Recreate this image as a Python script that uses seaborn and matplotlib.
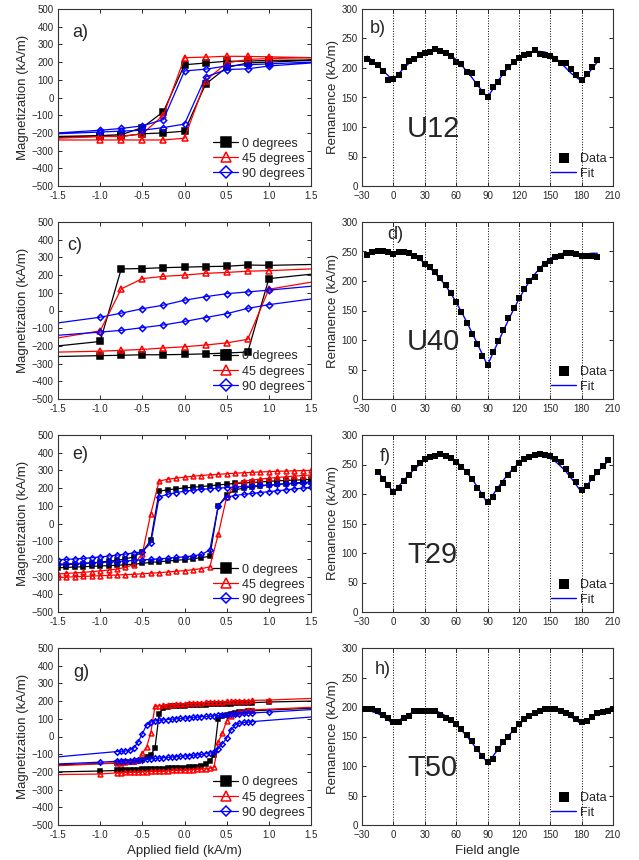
import numpy as np
import matplotlib
matplotlib.use('Agg')
import matplotlib.pyplot as plt
import seaborn as sns

# hysteresis loops: each branch listed in ascending field order
field_ac = [-1.5, -1.0, -0.75, -0.5, -0.25, 0.0, 0.25, 0.5, 0.75, 1.0, 1.5]

a_0_up = [-220, -215, -210, -170, -80, 185, 195, 205, 205, 210, 212]
a_0_low = [-225, -220, -220, -205, -200, -190, 75, 170, 195, 200, 210]
a_45_up = [-230, -220, -220, -205, -100, 225, 228, 233, 232, 230, 225]
a_45_low = [-240, -240, -240, -240, -240, -230, 95, 195, 215, 220, 225]
a_90_up = [-200, -185, -175, -160, -125, 150, 160, 178, 185, 190, 200]
a_90_low = [-205, -195, -190, -185, -170, -150, 116, 158, 162, 178, 195]

c_0_up = [-200, -175, 235, 237, 242, 245, 248, 250, 257, 255, 260]
c_0_low = [-260, -255, -253, -250, -250, -248, -245, -240, -235, 180, 205]
c_45_up = [-155, -115, 122, 180, 193, 200, 210, 215, 222, 225, 235]
c_45_low = [-235, -230, -225, -220, -212, -205, -195, -183, -163, 120, 160]
c_90_up = [-70, -38, -15, 10, 30, 58, 78, 95, 105, 115, 137]
c_90_low = [-140, -122, -112, -97, -82, -62, -40, -18, 12, 33, 65]

field_e = np.round(np.arange(-1.5, 1.51, 0.1), 1)
e_0_up = [-235, -232, -229, -226, -222, -218, -213, -208, -200, -188, -160, -95, 183, 190, 196, 201,
          205, 209, 213, 218, 222, 226, 229, 232, 235, 238, 241, 243, 245, 247, 249]
e_0_low = [-250, -248, -246, -244, -242, -240, -238, -236, -233, -230, -225, -220, -216, -212, -208, -204,
           -199, -193, -185, 100, 160, 190, 200, 207, 212, 217, 221, 225, 229, 232, 235]
e_45_up = [-285, -282, -279, -276, -272, -268, -263, -257, -248, -232, -170, 55, 240, 250, 256, 262,
           267, 271, 275, 278, 281, 284, 287, 289, 291, 293, 295, 296, 298, 299, 300]
e_45_low = [-305, -303, -301, -299, -297, -295, -293, -291, -289, -287, -284, -281, -278, -274, -270, -266,
            -261, -255, -245, -62, 150, 225, 238, 245, 251, 256, 260, 264, 268, 271, 274]
e_90_up = [-205, -203, -200, -197, -193, -189, -184, -179, -173, -166, -160, -110, 150, 165, 175, 182,
           188, 193, 197, 200, 203, 206, 209, 212, 215, 218, 221, 224, 226, 228, 230]
e_90_low = [-230, -228, -226, -224, -222, -220, -218, -215, -212, -208, -205, -203, -200, -196, -192, -188,
            -183, -175, -150, 100, 150, 158, 165, 170, 175, 180, 185, 190, 195, 200, 205]

g_grid = list(np.round(np.arange(-0.8, 0.81, 0.05), 2))
field_g_up = [-1.5] + g_grid + [1.0, 1.5]
field_g_low = [-1.5, -1.0] + g_grid + [1.5]
g_0_up = [-160, -150, -148, -146, -144, -142, -139, -133, -118, -105, -65, 128, 160, 168, 171, 173, 174, 175,
          176, 177, 178, 179, 180, 181, 182, 183, 184, 185, 186, 187, 188, 189, 190, 191, 195, 200]
g_0_low = [-200, -195, -192, -191, -190, -189, -188, -187, -186, -185, -184, -183, -182, -181, -180, -179,
           -178, -177, -176, -175, -173, -170, -165, -155, -140, -105, 100, 115, 122, 128, 133, 137, 140, 142, 145, 160]
g_45_up = [-165, -150, -147, -144, -141, -137, -130, -95, -60, 20, 170, 173, 176, 178, 180, 182, 184, 185,
           187, 188, 190, 191, 193, 194, 195, 196, 197, 198, 199, 200, 201, 202, 203, 204, 206, 215]
g_45_low = [-215, -212, -205, -204, -203, -202, -201, -200, -199, -198, -197, -196, -195, -194, -193, -192,
            -191, -190, -189, -188, -187, -186, -184, -182, -179, -175, -30, 20, 90, 118, 133, 140, 145, 148, 150, 165]
g_90_up = [-115, -85, -83, -82, -78, -65, -30, 15, 65, 82, 88, 92, 94, 96, 98, 100, 102, 104,
           106, 108, 110, 112, 113, 115, 117, 119, 121, 123, 125, 127, 129, 131, 132, 133, 138, 152]
g_90_low = [-155, -145, -140, -139, -137, -136, -134, -132, -130, -128, -126, -124, -122, -120, -118, -116,
            -114, -112, -110, -108, -106, -104, -101, -98, -94, -88, -70, -40, -10, 35, 65, 75, 80, 82, 84, 110]

# remanence vs field angle
angle_b = np.arange(-25, 200, 5)
b_data = [215, 211, 205, 195, 180, 182, 188, 202, 212, 216, 222, 225, 227, 232, 228, 225, 220, 211, 207, 193,
          191, 173, 159, 150, 167, 177, 192, 202, 210, 217, 222, 224, 230, 223, 222, 221, 216, 209, 209, 199,
          188, 180, 189, 201, 214]
b_fit = [220, 212, 204, 196, 187, 178, 190, 200, 208, 215, 220, 224, 227, 229, 229, 227, 222, 214, 205, 195,
         184, 172, 161, 150, 164, 178, 190, 201, 210, 217, 222, 226, 228, 228, 227, 223, 217, 209, 200, 191,
         184, 178, 188, 199, 210]
d_data = [244, 249, 250, 250, 249, 246, 249, 249, 247, 243, 239, 228, 224, 215, 205, 194, 180, 165, 148, 128,
          110, 93, 73, 58, 79, 98, 117, 137, 155, 172, 186, 200, 206, 220, 228, 234, 240, 243, 248, 247,
          245, 242, 243, 243, 240]
d_fit = [245, 247, 248, 248, 247, 245, 247, 248, 246, 243, 237, 230, 222, 213, 203, 192, 179, 164, 148, 131,
         113, 95, 76, 57, 77, 96, 115, 134, 152, 169, 185, 199, 211, 222, 231, 238, 243, 246, 248, 248,
         246, 244, 246, 247, 247]
angle_f = np.arange(-15, 210, 5)
f_data = [237, 225, 215, 203, 210, 222, 232, 244, 252, 260, 263, 265, 267, 264, 261, 254, 246, 237, 225, 211,
          198, 186, 195, 208, 219, 232, 242, 252, 260, 263, 266, 267, 266, 264, 259, 254, 242, 232, 220, 206,
          213, 227, 238, 248, 258]
f_fit = [238, 227, 215, 203, 213, 223, 233, 242, 250, 257, 262, 265, 266, 265, 261, 255, 247, 237, 226, 213,
         199, 184, 198, 211, 223, 234, 244, 252, 259, 264, 266, 266, 265, 261, 255, 247, 238, 227, 215, 203,
         214, 226, 237, 246, 255]
angle_h = np.arange(-30, 215, 5)
h_data = [197, 197, 197, 193, 187, 181, 175, 175, 182, 185, 193, 194, 193, 194, 194, 186, 182, 178, 172, 163,
          153, 142, 128, 117, 106, 112, 128, 141, 150, 161, 172, 180, 185, 190, 194, 197, 197, 197, 193, 190,
          187, 180, 174, 176, 183, 189, 191, 193, 196]
h_fit = [197, 195, 192, 189, 184, 178, 171, 177, 183, 188, 192, 195, 196, 196, 194, 190, 185, 178, 170, 161,
         151, 140, 128, 117, 105, 116, 128, 140, 151, 161, 170, 178, 185, 190, 194, 196, 197, 196, 193, 188,
         183, 177, 171, 178, 184, 189, 192, 195, 197]

sns.set_style('ticks')
plt.rcParams['font.family'] = ['Liberation Sans', 'DejaVu Sans']

fig = plt.figure(figsize=(6.39, 8.6), dpi=100)

lefts = [58 / 639, 362 / 639]
widths = [253 / 639, 251 / 639]
bottoms = [1 - 186 / 860, 1 - 399 / 860, 1 - 612 / 860, 1 - 825 / 860]
h = 177 / 860


def style_axes(ax):
    ax.tick_params(direction='in', length=3, width=0.7, labelsize=7, top=True, right=True, pad=3)
    ax.tick_params(axis='x', pad=3.5)
    for s in ax.spines.values():
        s.set_linewidth(0.8)
        s.set_color('#333333')


def loop(ax, xu, yu, xl, yl, color, marker, label, skip_ends, ms):
    xs = list(xu)[::-1] + list(xl)
    ys = list(yu)[::-1] + list(yl)
    mask = [True] * len(xs)
    if skip_ends:
        nu = len(xu)
        for i in [0, nu - 1, nu, len(xs) - 1]:
            mask[i] = False
    mfc = color if marker == 's' else 'none'
    sns.lineplot(x=xs, y=ys, sort=False, estimator=None, color=color, marker=marker,
                 markevery=mask, markersize=ms, markerfacecolor=mfc, markeredgecolor=color,
                 markeredgewidth=1.1, linewidth=0.9, label=label, ax=ax, legend=False)


hyst = [
    ('a)', (0.055, 0.87), field_ac, field_ac, [a_0_up, a_0_low, a_45_up, a_45_low, a_90_up, a_90_low], True, 4),
    ('c)', (0.035, 0.87), field_ac, field_ac, [c_0_up, c_0_low, c_45_up, c_45_low, c_90_up, c_90_low], True, 4),
    ('e)', (0.055, 0.89), field_e, field_e, [e_0_up, e_0_low, e_45_up, e_45_low, e_90_up, e_90_low], False, 3.5),
    ('g)', (0.06, 0.86), field_g_up, field_g_low, [g_0_up, g_0_low, g_45_up, g_45_low, g_90_up, g_90_low], True, 3.5),
]
series = [('0 degrees', 'black', 's'), ('45 degrees', 'red', '^'), ('90 degrees', 'blue', 'D')]

for row, (tag, tpos, xu, xl, ys, skip, ms) in enumerate(hyst):
    ax = fig.add_axes([lefts[0], bottoms[row], widths[0], h])
    for k, (lab, col, mk) in enumerate(series):
        msk = ms * 0.8 if mk == 'D' else ms
        loop(ax, xu, ys[2 * k], xl, ys[2 * k + 1], col, mk, lab, skip, msk)
    ax.set_xlim(-1.5, 1.5)
    ax.set_ylim(-500, 500)
    ax.set_xticks([-1.5, -1.0, -0.5, 0.0, 0.5, 1.0, 1.5])
    ax.set_xticklabels(['-1.5', '-1.0', '-0.5', '0.0', '0.5', '1.0', '1.5'])
    ax.set_yticks(range(-500, 501, 100))
    ax.set_ylabel('Magnetization (kA/m)', fontsize=9.5, labelpad=2)
    ax.set_xlabel('Applied field (kA/m)' if row == 3 else '', fontsize=9.5)
    ax.text(tpos[0], tpos[1], tag, transform=ax.transAxes, fontsize=13, va='center')
    ax.legend(loc='lower right', frameon=False, fontsize=9, markerscale=1.9, handlelength=2.0,
              handletextpad=0.3, labelspacing=0.25, borderaxespad=0.1)
    style_axes(ax)

rem = [
    ('b)', (0.032, 0.89), 'U12', angle_b, b_data, b_fit),
    ('d)', (0.10, 0.93), 'U40', angle_b, d_data, d_fit),
    ('f)', (0.07, 0.88), 'T29', angle_f, f_data, f_fit),
    ('h)', (0.052, 0.88), 'T50', angle_h, h_data, h_fit),
]

for row, (tag, tpos, name, ang, dat, fit) in enumerate(rem):
    ax = fig.add_axes([lefts[1], bottoms[row], widths[1], h])
    for gx in range(0, 181, 30):
        ax.axvline(gx, color='black', linestyle=':', linewidth=0.7, zorder=0)
    sns.scatterplot(x=ang, y=dat, marker='s', s=15, color='black', edgecolor='black', linewidth=0,
                    label='Data', ax=ax, legend=False, zorder=3)
    sns.lineplot(x=ang, y=fit, color='blue', linewidth=1.0, label='Fit', ax=ax, legend=False, zorder=2)
    ax.set_xlim(-30, 210)
    ax.set_ylim(0, 300)
    ax.set_xticks(range(-30, 211, 30))
    ax.set_yticks(range(0, 301, 50))
    ax.set_ylabel('Remanence (kA/m)', fontsize=9.5, labelpad=2)
    ax.set_xlabel('Field angle' if row == 3 else '', fontsize=9.5)
    ax.text(tpos[0], tpos[1], tag, transform=ax.transAxes, fontsize=13, va='center')
    ax.text(0.18, 0.32, name, transform=ax.transAxes, fontsize=21, va='center')
    ax.legend(loc='lower right', frameon=False, fontsize=9, markerscale=1.7, handlelength=2.0,
              handletextpad=0.3, labelspacing=0.25, borderaxespad=0.1)
    style_axes(ax)

fig.savefig('out.png', dpi=100)
